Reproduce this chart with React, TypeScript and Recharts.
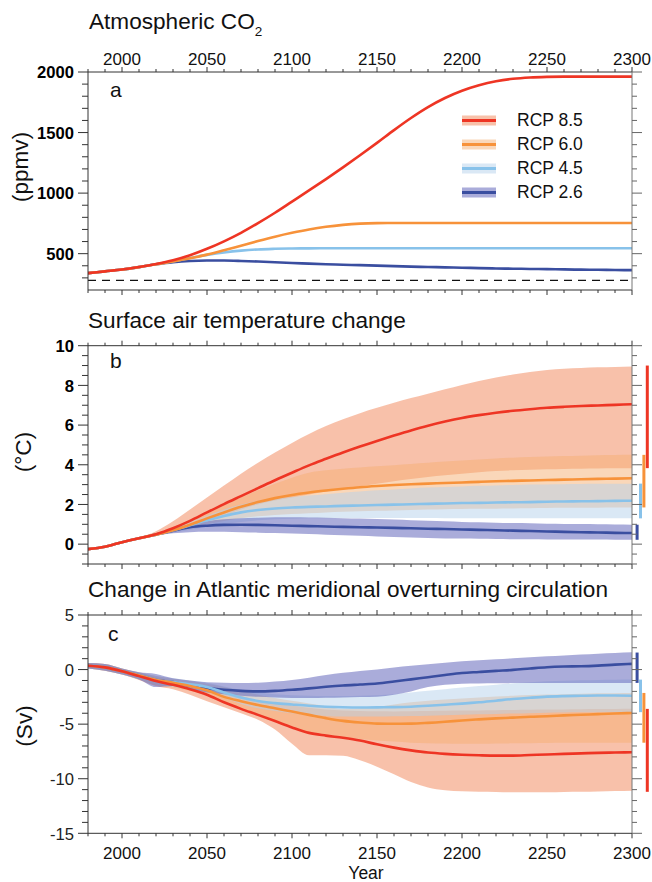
import { ComposedChart, Line, Area, XAxis, YAxis, ReferenceLine } from 'recharts';

const FONT = '"Liberation Sans", Arial, Helvetica, sans-serif';

// ---- data ----
const years = [1980, 1990, 2000, 2010, 2020, 2030, 2040, 2050, 2060, 2070, 2080, 2090, 2100, 2110, 2120, 2130, 2140, 2150, 2160, 2170, 2180, 2190, 2200, 2210, 2220, 2230, 2240, 2250, 2260, 2270, 2280, 2290, 2300];

const scenarios = ['RCP 8.5', 'RCP 6.0', 'RCP 4.5', 'RCP 2.6'];

// a: atmospheric CO2 (ppmv)
const co2Rcp85 = [339, 354, 369, 390, 415, 446, 487, 540, 602, 672, 752, 838, 930, 1022, 1116, 1213, 1313, 1415, 1520, 1620, 1710, 1785, 1845, 1890, 1923, 1944, 1955, 1960, 1962, 1962, 1962, 1962, 1962];
const co2Rcp60 = [339, 354, 369, 389, 412, 436, 462, 492, 528, 566, 604, 640, 672, 700, 722, 738, 748, 752, 753, 753, 753, 753, 753, 753, 753, 753, 753, 753, 753, 753, 753, 753, 753];
const co2Rcp45 = [339, 354, 369, 389, 412, 437, 465, 490, 510, 525, 535, 540, 543, 544, 545, 545, 545, 545, 545, 545, 545, 545, 545, 545, 545, 545, 545, 545, 545, 545, 545, 545, 545];
const co2Rcp26 = [339, 354, 369, 389, 412, 430, 440, 443, 443, 440, 435, 429, 423, 418, 413, 409, 405, 401, 397, 393, 390, 387, 384, 381, 378, 376, 374, 372, 370, 368, 367, 365, 364];
const co2Preindustrial = 280;

// b: surface air temperature change (°C)
const tempRcp85 = [-0.25, -0.13, 0.1, 0.3, 0.5, 0.8, 1.17, 1.6, 2.02, 2.42, 2.82, 3.22, 3.6, 3.97, 4.3, 4.62, 4.92, 5.2, 5.47, 5.73, 5.97, 6.18, 6.36, 6.5, 6.62, 6.72, 6.8, 6.87, 6.92, 6.96, 6.99, 7.02, 7.05];
const tempRcp85High = [-0.25, -0.13, 0.1, 0.32, 0.65, 1.15, 1.75, 2.35, 2.95, 3.55, 4.1, 4.62, 5.1, 5.55, 5.95, 6.3, 6.6, 6.87, 7.12, 7.36, 7.58, 7.8, 8.02, 8.22, 8.4, 8.55, 8.67, 8.77, 8.84, 8.88, 8.91, 8.93, 8.95];
const tempRcp85Low = [-0.25, -0.13, 0.1, 0.28, 0.42, 0.6, 0.85, 1.15, 1.45, 1.75, 2.0, 2.2, 2.35, 2.5, 2.65, 2.8, 2.92, 3.05, 3.17, 3.28, 3.38, 3.47, 3.55, 3.62, 3.68, 3.72, 3.75, 3.77, 3.79, 3.8, 3.81, 3.82, 3.83];
const tempRcp60 = [-0.25, -0.13, 0.1, 0.3, 0.48, 0.7, 0.98, 1.3, 1.6, 1.88, 2.12, 2.32, 2.48, 2.6, 2.7, 2.79, 2.87, 2.93, 2.98, 3.02, 3.05, 3.08, 3.11, 3.14, 3.17, 3.19, 3.21, 3.23, 3.25, 3.27, 3.29, 3.3, 3.32];
const tempRcp60High = [-0.25, -0.13, 0.1, 0.3, 0.52, 0.8, 1.15, 1.55, 1.95, 2.35, 2.72, 3.05, 3.35, 3.6, 3.72, 3.8, 3.86, 3.92, 3.98, 4.04, 4.1, 4.16, 4.22, 4.27, 4.32, 4.36, 4.39, 4.42, 4.44, 4.46, 4.48, 4.49, 4.5];
const tempRcp60Low = [-0.25, -0.13, 0.1, 0.28, 0.44, 0.6, 0.8, 1.0, 1.17, 1.3, 1.4, 1.47, 1.52, 1.56, 1.6, 1.63, 1.66, 1.68, 1.7, 1.72, 1.74, 1.76, 1.77, 1.78, 1.79, 1.8, 1.81, 1.82, 1.83, 1.83, 1.84, 1.85, 1.85];
const tempRcp45 = [-0.25, -0.13, 0.1, 0.3, 0.48, 0.7, 0.95, 1.2, 1.42, 1.6, 1.72, 1.8, 1.85, 1.88, 1.9, 1.93, 1.95, 1.97, 1.99, 2.01, 2.03, 2.05, 2.07, 2.08, 2.1, 2.11, 2.12, 2.14, 2.15, 2.16, 2.17, 2.18, 2.19];
const tempRcp45High = [-0.25, -0.13, 0.1, 0.3, 0.52, 0.8, 1.12, 1.45, 1.75, 2.0, 2.18, 2.3, 2.38, 2.45, 2.52, 2.59, 2.65, 2.71, 2.76, 2.81, 2.85, 2.88, 2.91, 2.94, 2.96, 2.98, 3.0, 3.01, 3.02, 3.03, 3.04, 3.05, 3.05];
const tempRcp45Low = [-0.25, -0.13, 0.1, 0.28, 0.44, 0.58, 0.72, 0.88, 1.02, 1.12, 1.2, 1.25, 1.28, 1.3, 1.31, 1.32, 1.32, 1.32, 1.32, 1.32, 1.32, 1.31, 1.31, 1.31, 1.31, 1.3, 1.3, 1.3, 1.3, 1.3, 1.3, 1.3, 1.3];
const tempRcp26 = [-0.25, -0.13, 0.1, 0.3, 0.48, 0.68, 0.85, 0.93, 0.97, 0.98, 0.97, 0.95, 0.93, 0.91, 0.89, 0.87, 0.85, 0.84, 0.82, 0.8, 0.78, 0.76, 0.74, 0.72, 0.7, 0.68, 0.66, 0.64, 0.62, 0.6, 0.59, 0.57, 0.56];
const tempRcp26High = [-0.25, -0.13, 0.1, 0.3, 0.52, 0.78, 1.0, 1.15, 1.25, 1.3, 1.33, 1.35, 1.35, 1.34, 1.33, 1.31, 1.29, 1.27, 1.24, 1.21, 1.18, 1.15, 1.12, 1.1, 1.08, 1.06, 1.05, 1.03, 1.02, 1.01, 1.0, 0.99, 0.98];
const tempRcp26Low = [-0.25, -0.13, 0.1, 0.28, 0.44, 0.55, 0.6, 0.62, 0.62, 0.6, 0.58, 0.56, 0.54, 0.51, 0.48, 0.45, 0.42, 0.39, 0.36, 0.33, 0.31, 0.29, 0.28, 0.27, 0.26, 0.25, 0.25, 0.24, 0.24, 0.23, 0.23, 0.22, 0.22];
// model ranges at 2300 (bars right of panel b), order 8.5, 6.0, 4.5, 2.6
const tempBarLow = [3.83, 1.85, 1.3, 0.22];
const tempBarHigh = [9.0, 4.5, 3.05, 0.98];

// c: AMOC change (Sv)
const amocRcp85 = [0.35, 0.2, -0.15, -0.6, -1.05, -1.4, -1.8, -2.3, -3.0, -3.6, -4.15, -4.72, -5.3, -5.8, -6.05, -6.25, -6.5, -6.85, -7.15, -7.4, -7.6, -7.72, -7.8, -7.85, -7.88, -7.88, -7.83, -7.78, -7.72, -7.68, -7.63, -7.6, -7.58];
const amocRcp85High = [0.6, 0.5, 0.1, -0.3, -0.7, -1.0, -1.3, -1.6, -2.0, -2.4, -2.8, -3.1, -3.3, -3.5, -3.65, -3.75, -3.8, -3.82, -3.83, -3.82, -3.8, -3.78, -3.76, -3.74, -3.72, -3.7, -3.68, -3.66, -3.65, -3.63, -3.62, -3.61, -3.6];
const amocRcp85Low = [0.1, -0.1, -0.45, -0.95, -1.5, -1.8, -2.3, -2.9, -3.45, -4.0, -4.6, -5.5, -6.8, -7.85, -7.85, -7.9, -8.3, -8.9, -9.6, -10.3, -10.8, -11.05, -11.15, -11.2, -11.22, -11.25, -11.25, -11.25, -11.22, -11.2, -11.17, -11.13, -11.1];
const amocRcp60 = [0.35, 0.2, -0.15, -0.55, -0.95, -1.2, -1.5, -1.9, -2.5, -2.9, -3.25, -3.55, -3.85, -4.15, -4.45, -4.7, -4.85, -4.95, -4.96, -4.95, -4.88, -4.78, -4.66, -4.56, -4.47, -4.4, -4.32, -4.27, -4.2, -4.14, -4.08, -4.02, -3.98];
const amocRcp60High = [0.6, 0.5, 0.1, -0.25, -0.6, -0.85, -1.05, -1.3, -1.6, -1.95, -2.3, -2.6, -2.85, -3.1, -3.35, -3.6, -3.55, -3.4, -3.2, -3.0, -2.85, -2.75, -2.65, -2.55, -2.47, -2.4, -2.34, -2.29, -2.25, -2.21, -2.18, -2.16, -2.14];
const amocRcp60Low = [0.1, -0.1, -0.45, -0.9, -1.4, -1.65, -1.95, -2.4, -2.9, -3.5, -4.1, -4.7, -5.3, -5.75, -6.0, -6.2, -6.35, -6.5, -6.6, -6.7, -6.75, -6.78, -6.8, -6.8, -6.78, -6.76, -6.74, -6.72, -6.71, -6.7, -6.7, -6.7, -6.7];
const amocRcp45 = [0.35, 0.2, -0.15, -0.55, -0.95, -1.15, -1.35, -1.6, -2.1, -2.55, -2.88, -3.07, -3.2, -3.32, -3.4, -3.45, -3.47, -3.46, -3.44, -3.4, -3.32, -3.22, -3.12, -3.0, -2.85, -2.7, -2.58, -2.48, -2.43, -2.4, -2.38, -2.38, -2.4];
const amocRcp45High = [0.6, 0.5, 0.1, -0.25, -0.6, -0.8, -1.0, -1.2, -1.55, -1.85, -2.1, -2.25, -2.35, -2.4, -2.42, -2.42, -2.4, -2.35, -2.25, -2.1, -1.95, -1.8, -1.65, -1.5, -1.38, -1.26, -1.15, -1.07, -1.02, -0.98, -0.95, -0.93, -0.92];
const amocRcp45Low = [0.1, -0.1, -0.45, -0.9, -1.4, -1.6, -1.8, -2.05, -2.6, -3.15, -3.55, -3.8, -4.0, -4.15, -4.25, -4.3, -4.3, -4.3, -4.28, -4.25, -4.22, -4.18, -4.14, -4.1, -4.06, -4.02, -3.99, -3.96, -3.94, -3.92, -3.91, -3.9, -3.9];
const amocRcp26 = [0.35, 0.2, -0.15, -0.55, -0.95, -1.15, -1.45, -1.7, -1.85, -1.95, -2.0, -1.95, -1.85, -1.72, -1.58, -1.46, -1.37, -1.28, -1.1, -0.9, -0.7, -0.5, -0.32, -0.22, -0.12, -0.03, 0.1, 0.22, 0.28, 0.3, 0.36, 0.45, 0.52];
const amocRcp26High = [0.6, 0.5, 0.1, -0.25, -0.4, -0.8, -1.0, -1.15, -1.2, -1.22, -1.2, -1.1, -0.95, -0.75, -0.5, -0.3, -0.12, 0.0, 0.18, 0.34, 0.48, 0.62, 0.76, 0.86, 0.95, 1.04, 1.12, 1.22, 1.3, 1.38, 1.46, 1.53, 1.59];
const amocRcp26Low = [0.1, -0.1, -0.45, -0.9, -1.6, -1.5, -1.8, -2.1, -2.25, -2.4, -2.5, -2.55, -2.6, -2.6, -2.58, -2.55, -2.52, -2.48, -2.3, -2.0, -1.6, -1.4, -1.3, -1.27, -1.25, -1.24, -1.23, -1.22, -1.22, -1.22, -1.22, -1.22, -1.22];
const amocBarLow = [-11.2, -6.7, -3.9, -1.22];
const amocBarHigh = [-3.6, -2.14, -0.92, 1.56];

// tick labels
const xTickLabels = [2000, 2050, 2100, 2150, 2200, 2250, 2300];
const co2TickLabels = [500, 1000, 1500, 2000];
const tempTickLabels = [0, 2, 4, 6, 8, 10];
const amocTickLabels = [-15, -10, -5, 0, 5];

// minor tick grids
const xTicks = Array.from({ length: 33 }, (_, i) => 1980 + i * 10);
const co2Ticks = Array.from({ length: 18 }, (_, i) => 300 + i * 100);
const tempTicks = Array.from({ length: 23 }, (_, i) => -1 + i * 0.5);
const amocTicks = Array.from({ length: 21 }, (_, i) => -15 + i);

// ---- styling ----
const LINE_COLORS = ['#ee3524', '#f7923a', '#88c2ea', '#3a4ea0'];
const BAND_COLORS = ['#f18355', '#f5af73', '#b5d1eb', '#6468bc'];
const BAND_OPACITY = [0.5, 0.5, 0.5, 0.55];
const BAR_X = [2309, 2307, 2305, 2303];
const KEYS = ['r85', 'r60', 'r45', 'r26'];

const co2Rows = years.map((year, i) => ({
  year, r85: co2Rcp85[i], r60: co2Rcp60[i], r45: co2Rcp45[i], r26: co2Rcp26[i],
}));

const tempRows = years.map((year, i) => ({
  year,
  r85: tempRcp85[i], r60: tempRcp60[i], r45: tempRcp45[i], r26: tempRcp26[i],
  b85: [tempRcp85Low[i], tempRcp85High[i]],
  b60: [tempRcp60Low[i], tempRcp60High[i]],
  b45: [tempRcp45Low[i], tempRcp45High[i]],
  b26: [tempRcp26Low[i], tempRcp26High[i]],
}));

const amocRows = years.map((year, i) => ({
  year,
  r85: amocRcp85[i], r60: amocRcp60[i], r45: amocRcp45[i], r26: amocRcp26[i],
  b85: [amocRcp85Low[i], amocRcp85High[i]],
  b60: [amocRcp60Low[i], amocRcp60High[i]],
  b45: [amocRcp45Low[i], amocRcp45High[i]],
  b26: [amocRcp26Low[i], amocRcp26High[i]],
}));

function xTick(side: 'top' | 'bottom', labels: boolean) {
  return (p: any) => {
    const v = p.payload.value;
    const major = v % 50 === 0;
    const d = side === 'top' ? -1 : 1;
    return (
      <g>
        <line x1={p.x} x2={p.x} y1={p.y} y2={p.y + d * (major ? 5 : 3)} stroke="#333" strokeWidth={1} />
        {labels && xTickLabels.includes(v) ? (
          <text x={p.x} y={side === 'top' ? p.y - 7 : p.y + 26} textAnchor="middle" fontSize={17} fontFamily={FONT} fill="#111">
            {v}
          </text>
        ) : null}
      </g>
    );
  };
}

function yTick(side: 'left' | 'right', majors: number[], labels: boolean, fill: string, weight: string) {
  return (p: any) => {
    const v = p.payload.value;
    const major = majors.some(m => Math.abs(m - v) < 1e-6);
    const d = side === 'left' ? -1 : 1;
    const len = major ? 10 : side === 'left' ? 6 : 5;
    return (
      <g>
        <line x1={p.x} x2={p.x + d * len} y1={p.y} y2={p.y} stroke={side === 'left' ? '#333' : '#666'} strokeWidth={1} />
        {labels && major ? (
          <text x={p.x - 14} y={p.y + 6.2} textAnchor="end" fontSize={16.6} fontWeight={weight} fontFamily={FONT} fill={fill}>
            {v}
          </text>
        ) : null}
      </g>
    );
  };
}

function frame(o: {
  yDomain: [number, number]; yTicks: number[]; yLabels: number[];
  topH: number; bottomH: number; topLabels: boolean; bottomLabels: boolean; fill: string; weight: string;
}) {
  return [
    <XAxis key="xb" xAxisId="b" orientation="bottom" dataKey="year" type="number" domain={[1980, 2300]}
      ticks={xTicks} interval={0} height={o.bottomH} tickSize={0} tickMargin={0} tickLine={false}
      axisLine={{ stroke: '#333' }} tick={xTick('bottom', o.bottomLabels)} allowDataOverflow />,
    <XAxis key="xt" xAxisId="t" orientation="top" dataKey="year" type="number" domain={[1980, 2300]}
      ticks={xTicks} interval={0} height={o.topH} tickSize={0} tickMargin={0} tickLine={false}
      axisLine={{ stroke: '#333' }} tick={xTick('top', o.topLabels)} allowDataOverflow />,
    <YAxis key="yl" yAxisId="l" orientation="left" type="number" domain={o.yDomain} ticks={o.yTicks}
      interval={0} width={60} tickSize={0} tickMargin={0} tickLine={false}
      axisLine={{ stroke: '#333' }} tick={yTick('left', o.yLabels, true, o.fill, o.weight)} allowDataOverflow />,
    <YAxis key="yr" yAxisId="r" orientation="right" type="number" domain={o.yDomain} ticks={o.yTicks}
      interval={0} width={20} tickSize={0} tickMargin={0} tickLine={false}
      axisLine={{ stroke: '#777' }} tick={yTick('right', o.yLabels, false, '', 'normal')} allowDataOverflow />,
  ];
}

function bands() {
  return KEYS.map((k, i) => (
    <Area key={'b' + k} xAxisId="b" yAxisId="l" dataKey={'b' + k.slice(1)} type="monotone" stroke="none"
      fill={BAND_COLORS[i]} fillOpacity={BAND_OPACITY[i]} isAnimationActive={false} activeDot={false} />
  ));
}

function lines(width: number) {
  return [3, 2, 1, 0].map(i => (
    <Line key={KEYS[i]} xAxisId="b" yAxisId="l" dataKey={KEYS[i]} type="monotone" stroke={LINE_COLORS[i]}
      strokeWidth={width} dot={false} activeDot={false} isAnimationActive={false} />
  ));
}

function bars(low: number[], high: number[]) {
  return low.map((lo, i) => (
    <ReferenceLine key={'bar' + i} xAxisId="b" yAxisId="l" ifOverflow="visible"
      segment={[{ x: BAR_X[i], y: lo }, { x: BAR_X[i], y: high[i] }]}
      stroke={LINE_COLORS[i]} strokeWidth={3} />
  ));
}

export default function App() {
  return (
    <div style={{ position: 'absolute', left: 0, top: 0, width: 652, height: 882, background: '#fff', fontFamily: FONT }}>
      <div style={{ position: 'absolute', left: 0, top: 0 }}>
        <ComposedChart width={652} height={300} data={co2Rows} margin={{ top: 42, right: 0, bottom: 0, left: 28 }}>
          {frame({ yDomain: [200, 2000], yTicks: co2Ticks, yLabels: co2TickLabels, topH: 30, bottomH: 10, topLabels: true, bottomLabels: false, fill: '#000', weight: 'bold' })}
          <ReferenceLine xAxisId="b" yAxisId="l" y={co2Preindustrial} stroke="#111" strokeWidth={1.3} strokeDasharray="8 6" />
          {lines(2.6)}
        </ComposedChart>
      </div>
      <div style={{ position: 'absolute', left: 0, top: 300 }}>
        <ComposedChart width={652} height={282} data={tempRows} margin={{ top: 35.7, right: 0, bottom: 8, left: 28 }}>
          {frame({ yDomain: [-1, 10], yTicks: tempTicks, yLabels: tempTickLabels, topH: 10, bottomH: 10, topLabels: false, bottomLabels: false, fill: '#000', weight: 'bold' })}
          {bands()}
          {lines(2.6)}
          {bars(tempBarLow, tempBarHigh)}
        </ComposedChart>
      </div>
      <div style={{ position: 'absolute', left: 0, top: 580 }}>
        <ComposedChart width={652} height={302} data={amocRows} margin={{ top: 25, right: 0, bottom: 18.7, left: 28 }}>
          {frame({ yDomain: [-15, 5], yTicks: amocTicks, yLabels: amocTickLabels, topH: 10, bottomH: 30, topLabels: false, bottomLabels: true, fill: '#222', weight: 'normal' })}
          {bands()}
          {lines(2.6)}
          {bars(amocBarLow, amocBarHigh)}
        </ComposedChart>
      </div>

      <svg width={652} height={882} style={{ position: 'absolute', left: 0, top: 0, pointerEvents: 'none' }} fontFamily={FONT}>
        <text x={89} y={28.5} fontSize={22.6} fill="#111">
          Atmospheric CO<tspan fontSize={13.5} dy={7}>2</tspan>
        </text>
        <text x={88} y={328.3} fontSize={22.6} fill="#111">Surface air temperature change</text>
        <text x={88} y={597.3} fontSize={22.6} fill="#111">Change in Atlantic meridional overturning circulation</text>

        <text x={110} y={96.7} fontSize={21} fill="#111">a</text>
        <text x={110} y={368.3} fontSize={21} fill="#111">b</text>
        <text x={108} y={640.7} fontSize={21} fill="#111">c</text>

        <text transform="translate(28,167) rotate(-90)" textAnchor="middle" fontSize={22.6} fill="#111">(ppmv)</text>
        <text transform="translate(31,452) rotate(-90)" textAnchor="middle" fontSize={22.6} fill="#111">(°C)</text>
        <text transform="translate(32,726) rotate(-90)" textAnchor="middle" fontSize={22.6} fill="#111">(Sv)</text>

        <text x={366} y={878.5} textAnchor="middle" fontSize={17.5} fill="#111">Year</text>

        {scenarios.map((name, i) => {
          const base = 126 + i * 24;
          return (
            <g key={name}>
              <rect x={462} y={base - 10.5} width={34} height={10} fill={BAND_COLORS[i]} fillOpacity={BAND_OPACITY[i]} />
              <line x1={462} x2={496} y1={base - 5.5} y2={base - 5.5} stroke={LINE_COLORS[i]} strokeWidth={3} />
              <text x={517} y={base} fontSize={17.5} fill="#111">{name}</text>
            </g>
          );
        })}
      </svg>
    </div>
  );
}
